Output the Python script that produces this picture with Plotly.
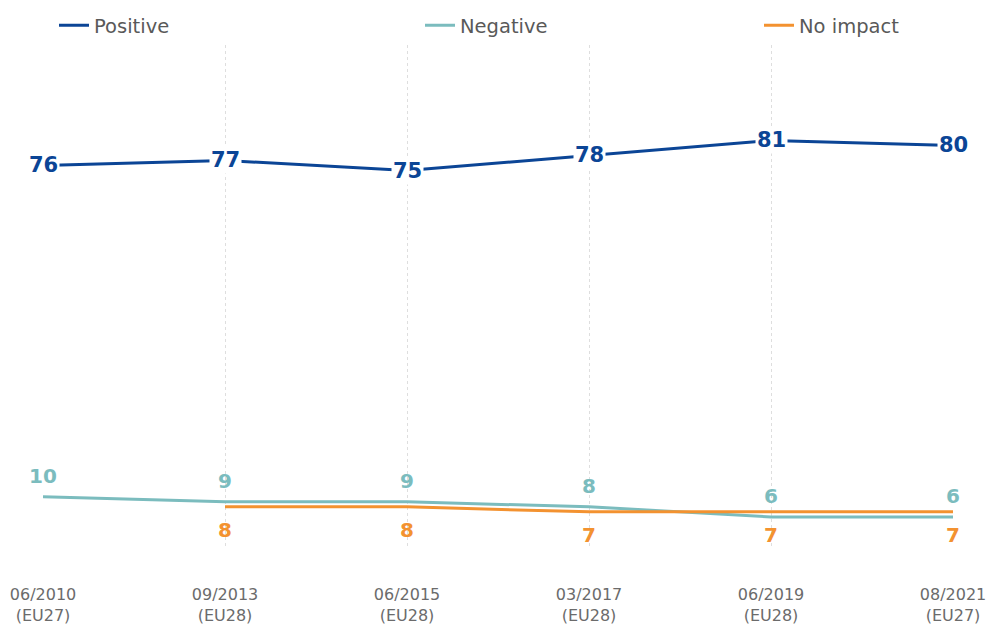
import plotly.graph_objects as go

categories = ["06/2010<br>(EU27)", "09/2013<br>(EU28)", "06/2015<br>(EU28)",
              "03/2017<br>(EU28)", "06/2019<br>(EU28)", "08/2021<br>(EU27)"]
positive = [76, 77, 75, 78, 81, 80]
negative = [10, 9, 9, 8, 6, 6]
no_impact = [None, 8, 8, 7, 7, 7]

C_POS = "#0b4596"
C_NEG = "#7bbcbe"
C_NO = "#f39230"
FONT = "DejaVu Sans"

fig = go.Figure()
fig.add_trace(go.Scatter(x=categories, y=positive, mode="lines", name="Positive",
                         line=dict(color=C_POS, width=3), legend="legend"))
fig.add_trace(go.Scatter(x=categories, y=negative, mode="lines", name="Negative",
                         line=dict(color=C_NEG, width=3), legend="legend2"))
fig.add_trace(go.Scatter(x=categories, y=no_impact, mode="lines", name="No impact",
                         line=dict(color=C_NO, width=3), legend="legend3"))

for c, v in zip(categories, positive):
    fig.add_annotation(x=c, y=v, text=f"<b>{v}</b>", showarrow=False,
                       bgcolor="white", font=dict(family=FONT, size=21, color=C_POS),
                       borderpad=1)
for c, v in zip(categories, negative):
    fig.add_annotation(x=c, y=v, text=f"<b>{v}</b>", showarrow=False, yshift=21,
                       font=dict(family=FONT, size=20, color=C_NEG))
for c, v in zip(categories, no_impact):
    if v is not None:
        fig.add_annotation(x=c, y=v, text=f"<b>{v}</b>", showarrow=False, yshift=-23,
                           font=dict(family=FONT, size=20, color=C_NO))

legend_common = dict(orientation="h", yanchor="middle", y=0.959, xanchor="left",
                     xref="container", yref="container",
                     font=dict(family=FONT, size=19.5, color="#595959"),
                     bgcolor="rgba(0,0,0,0)", itemwidth=30)

fig.update_layout(
    width=986, height=625,
    margin=dict(l=43, r=33, t=45, b=78, autoexpand=False),
    plot_bgcolor="white", paper_bgcolor="white",
    showlegend=True,
    legend=dict(legend_common, x=54 / 986),
    legend2=dict(legend_common, x=420 / 986),
    legend3=dict(legend_common, x=759 / 986),
    xaxis=dict(range=[0, 5], showgrid=True, gridcolor="#dedede", griddash="dot",
               gridwidth=1, showline=False, zeroline=False, ticks="",
               automargin=False,
               tickfont=dict(family=FONT, size=16, color="#6b6b6b"),
               ticklabelstandoff=36),
    yaxis=dict(range=[0, 100], visible=False, showgrid=False, zeroline=False,
               automargin=False),
)

fig.write_html("out.html", config={"displayModeBar": False},
               post_script="document.body.style.margin='0';document.body.style.overflow='hidden';")
